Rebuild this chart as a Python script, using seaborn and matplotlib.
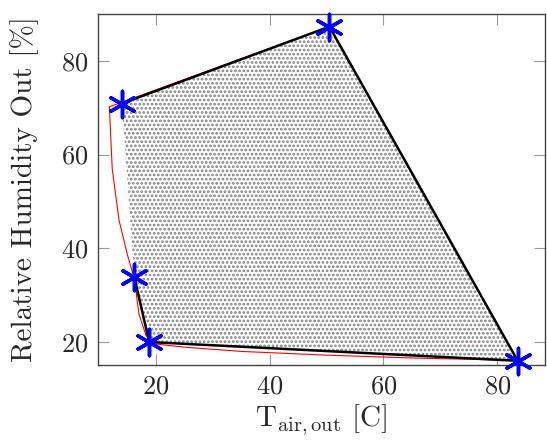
import numpy as np
import pandas as pd
import matplotlib
matplotlib.use("Agg")
import matplotlib.pyplot as plt
import seaborn as sns

# vertices of the operating envelope (blue asterisks / black polygon)
t_air_out = [14.0, 50.5, 83.6, 18.8, 16.2]
rh_out = [70.9, 87.3, 16.0, 20.0, 33.8]

# red (smoothed) boundary
red_t = [50.5, 11.8, 12.3, 13.5, 15.0, 16.2, 17.0, 18.2, 19.8, 25.0, 35.0, 50.0, 65.0, 83.0]
red_rh = [87.3, 70.2, 57.0, 46.0, 38.5, 33.5, 26.0, 21.5, 19.6, 18.9, 18.0, 17.2, 16.6, 16.1]

xticks = [20, 40, 60, 80]
yticks = [20, 40, 60, 80]

sns.set_style("ticks")
plt.rcParams["font.family"] = "serif"
plt.rcParams["font.serif"] = ["cmr10"]
plt.rcParams["mathtext.fontset"] = "cm"
plt.rcParams["axes.formatter.use_mathtext"] = True
plt.rcParams["hatch.linewidth"] = 1.3

fig = plt.figure(figsize=(5.47, 4.42), dpi=100)
ax = fig.add_axes([98 / 547, 77 / 442, 447 / 547, 351 / 442])

# dotted fill of the polygon
ax.fill(t_air_out, rh_out, facecolor="white", edgecolor="#7f7f7f", hatch="....", linewidth=0, zorder=1)

red = pd.DataFrame({"t": red_t, "rh": red_rh})
sns.lineplot(data=red, x="t", y="rh", sort=False, color="red", linewidth=0.8, ax=ax, zorder=2)

poly = pd.DataFrame({"t": t_air_out + t_air_out[:1], "rh": rh_out + rh_out[:1]})
sns.lineplot(data=poly, x="t", y="rh", sort=False, color="black", linewidth=1.8, ax=ax, zorder=3)

pts = pd.DataFrame({"t": t_air_out, "rh": rh_out})
sns.scatterplot(data=pts, x="t", y="rh", marker=(6, 2, 0), s=360, color="blue",
                edgecolor="blue", linewidth=2.5, ax=ax, zorder=4, clip_on=False)

ax.set_xlim(9.8, 88.4)
ax.set_ylim(15.1, 90.0)
ax.set_xticks(xticks)
ax.set_yticks(yticks)
ax.tick_params(direction="in", length=8, width=0.8, color="#999999",
               top=True, right=True, labelsize=19, pad=7)
for s in ax.spines.values():
    s.set_color("#444444")
    s.set_linewidth(1.0)

ax.set_xlabel(r"$\mathrm{T_{air,out}}$ [C]", fontsize=21, labelpad=3)
ax.set_ylabel("Relative Humidity Out [%]", fontsize=21, labelpad=16)

fig.savefig("out.png", dpi=100)
